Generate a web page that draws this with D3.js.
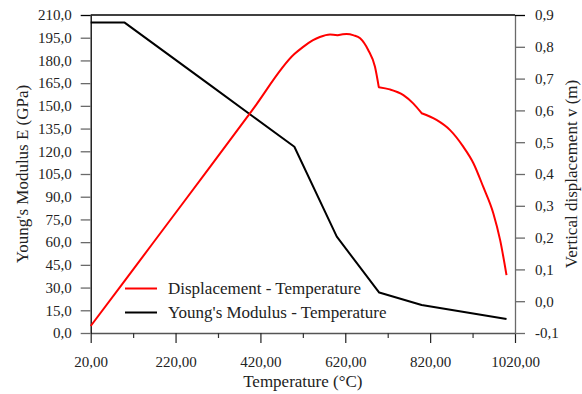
<!DOCTYPE html>
<html>
<head>
<meta charset="utf-8">
<script src="https://cdn.jsdelivr.net/npm/d3@7"></script>
<style>
html,body{margin:0;padding:0;background:#fff;}
svg{display:block;}
svg text{font-family:"Liberation Serif","Times New Roman","DejaVu Serif",serif !important;}
</style>
</head>
<body>
<svg id="chart" width="582" height="394"></svg>
<script>
// Young's modulus vs temperature (left axis)
const modTemp = [20, 100, 200, 300, 400, 500, 600, 700, 800, 900, 1000];
const modValues = [205, 205, 184.5, 164, 143.5, 123, 63.6, 26.7, 18.5, 13.8, 9.2];
// Displacement vs temperature (right axis)
const dispTemp = [20, 100, 200, 300, 400, 500, 520, 544, 560, 584, 602, 623, 640, 655, 674, 690, 699, 725, 757, 780, 800, 835, 867, 898, 922, 945, 969, 985, 1000];
const dispValues = [-0.078, 0.064, 0.242, 0.420, 0.599, 0.777, 0.799, 0.821, 0.831, 0.839, 0.836, 0.840, 0.836, 0.827, 0.790, 0.737, 0.673, 0.666, 0.648, 0.622, 0.591, 0.570, 0.538, 0.486, 0.434, 0.360, 0.276, 0.192, 0.082];
// temperatures where the displacement curve has a sharp corner
const dispCorners = [602, 699, 800];
const xTicks = [20, 220, 420, 620, 820, 1020];
const xMinorTicks = [120, 320, 520, 720, 920];
const leftTicks = [0, 15, 30, 45, 60, 75, 90, 105, 120, 135, 150, 165, 180, 195, 210];
const rightTicks = [-0.1, 0, 0.1, 0.2, 0.3, 0.4, 0.5, 0.6, 0.7, 0.8, 0.9];
const seriesNames = ["Displacement - Temperature", "Young's Modulus - Temperature"];
const seriesColors = ["#ff0000", "#000000"];

const FONT = "Liberation Serif, Times New Roman, DejaVu Serif, serif";
const svg = d3.select("#chart");
const L = 90.7, R = 515, T = 15, B = 333;
const x = d3.scaleLinear().domain([20, 1020]).range([L, R]);
const yL = d3.scaleLinear().domain([0, 210]).range([B, T]);
const yR = d3.scaleLinear().domain([-0.1, 0.9]).range([B, T]);

const comma = s => s.replace(".", ",").replace("\u2212", "-");
const tickCol = "#6a6a6a";

// top frame line
svg.append("line").attr("x1", L).attr("x2", R).attr("y1", T).attr("y2", T)
  .attr("stroke", "#000").attr("stroke-width", 1.3);

function styleText(g) {
  g.attr("font-family", FONT);
  g.selectAll(".tick text").attr("font-size", 15).attr("fill", "#222").attr("font-family", FONT);
}

// bottom axis (major)
const gx = svg.append("g").attr("transform", `translate(0,${B})`)
  .call(d3.axisBottom(x).tickValues(xTicks).tickSize(10).tickSizeOuter(0).tickPadding(13)
    .tickFormat(d => comma(d3.format(".2f")(d))));
gx.select(".domain").attr("stroke", "#555").attr("stroke-width", 1.3);
gx.selectAll(".tick line").attr("stroke", "#222").attr("stroke-width", 1.2);
styleText(gx);

// bottom minor ticks
const gxm = svg.append("g").attr("transform", `translate(0,${B})`)
  .call(d3.axisBottom(x).tickValues(xMinorTicks).tickSize(5).tickSizeOuter(0).tickFormat(""));
gxm.select(".domain").remove();
gxm.selectAll(".tick line").attr("stroke", "#333").attr("stroke-width", 1.2);

// left axis
const gl = svg.append("g").attr("transform", `translate(${L},0)`)
  .call(d3.axisLeft(yL).tickValues(leftTicks).tickSize(10).tickSizeOuter(0).tickPadding(9)
    .tickFormat(d => comma(d3.format(".1f")(d))));
gl.select(".domain").attr("stroke", "#000").attr("stroke-width", 1.3);
gl.selectAll(".tick line").attr("stroke", tickCol).attr("stroke-width", 1.3);
styleText(gl);
gl.selectAll(".tick").filter(d => d === 210).select("line").attr("stroke", "#000");

// right axis
const gr = svg.append("g").attr("transform", `translate(${R},0)`)
  .call(d3.axisRight(yR).tickValues(rightTicks).tickSize(10).tickSizeOuter(0).tickPadding(10)
    .tickFormat(d => comma(d3.format(".1f")(d))));
gr.select(".domain").attr("stroke", tickCol).attr("stroke-width", 1.3);
gr.selectAll(".tick line").attr("stroke", tickCol).attr("stroke-width", 1.3);
styleText(gr);
gr.selectAll(".tick").filter(d => d === 0.9).select("line").attr("stroke", "#000");

// lines
const modData = modTemp.map((t, i) => [t, modValues[i]]);
const dispData = dispTemp.map((t, i) => [t, dispValues[i]]);
svg.append("path").datum(modData)
  .attr("fill", "none").attr("stroke", seriesColors[1]).attr("stroke-width", 2)
  .attr("stroke-linejoin", "round")
  .attr("d", d3.line().x(d => x(d[0])).y(d => yL(d[1])));

// displacement: smooth pieces joined at sharp corners
const cuts = [dispTemp[0], ...dispCorners, dispTemp[dispTemp.length - 1]];
const smooth = d3.line().x(d => x(d[0])).y(d => yR(d[1])).curve(d3.curveMonotoneX);
let dStr = "";
for (let k = 0; k < cuts.length - 1; k++) {
  const seg = dispData.filter(p => p[0] >= cuts[k] && p[0] <= cuts[k + 1]);
  let s = smooth(seg);
  if (k > 0) s = "L" + s.slice(1);
  dStr += s;
}
svg.append("path")
  .attr("fill", "none").attr("stroke", seriesColors[0]).attr("stroke-width", 2)
  .attr("stroke-linejoin", "round")
  .attr("d", dStr);

// axis titles
svg.append("text").attr("x", (L + R) / 2).attr("y", 387).attr("text-anchor", "middle")
  .attr("font-family", FONT).attr("font-size", 17).attr("fill", "#222").text("Temperature (°C)");
svg.append("text").attr("transform", `translate(28,${(T + B) / 2}) rotate(-90)`)
  .attr("text-anchor", "middle").attr("font-family", FONT).attr("font-size", 17).attr("fill", "#222")
  .text("Young's Modulus E (GPa)");
svg.append("text").attr("transform", `translate(577,${(T + B) / 2}) rotate(-90)`)
  .attr("text-anchor", "middle").attr("font-family", FONT).attr("font-size", 17).attr("fill", "#222")
  .text("Vertical displacement v (m)");

// legend
const lg = svg.append("g");
seriesNames.forEach((name, i) => {
  const yy = 288.5 + i * 24;
  lg.append("line").attr("x1", 125).attr("x2", 157).attr("y1", yy).attr("y2", yy)
    .attr("stroke", seriesColors[i]).attr("stroke-width", 2);
  lg.append("text").attr("x", 168).attr("y", yy).attr("dy", "0.35em")
    .attr("font-family", FONT).attr("font-size", 17).attr("fill", "#222").text(name);
});
</script>
</body>
</html>
